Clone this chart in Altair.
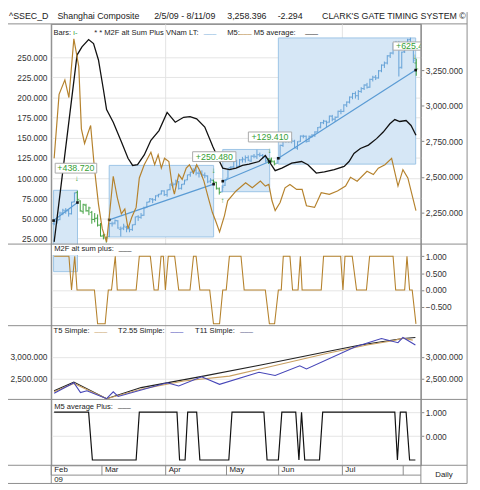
import altair as alt
import pandas as pd

FONT = "Liberation Sans"
GREEN = "#3a9d3a"
BAR_IN = "#62a0d6"
BROWN = "#b5822d"
TREND = "#5a9bd4"
GRID = "#e4e4e4"
FRAME = "#8c8c8c"
LEG = 7.7

# ---------------- data ----------------
# x = trading-day index (0 = 5 Feb 2009)
month_pos = [-1.0, 16.5, 38.5, 59.5, 77.5, 99.5, 120.5]
month_lab = ["Feb", "Mar", "Apr", "May", "Jun", "Jul", ""]
quarter_pos = [38.5, 99.5]

bar_open = [2170, 2185, 2200, 2245, 2260, 2260, 2240, 2325, 2390, 2330, 2255, 2300, 2260, 2250, 2200, 2210, 2160,
            2085, 2070, 2080, 2170, 2175, 2190, 2130, 2140, 2145, 2135, 2130, 2165, 2220, 2215, 2230, 2285, 2325,
            2340, 2340, 2370, 2380, 2400,
            2375, 2410, 2440, 2450, 2465, 2420, 2450, 2480, 2515, 2535, 2545, 2525, 2520, 2510, 2505, 2470, 2475,
            2460, 2415, 2395, 2440,
            2490, 2565, 2570, 2610, 2575, 2620, 2620, 2635, 2610, 2645, 2640, 2655, 2650, 2640, 2610, 2620, 2605, 2595,
            2630, 2720, 2765, 2775, 2765, 2750, 2700, 2750, 2785, 2785, 2750, 2785, 2795, 2815, 2850, 2880, 2890, 2885,
            2925, 2905, 2920, 2960,
            2960, 3005, 3025, 3060, 3085, 3070, 3100, 3120, 3145, 3130, 3185, 3200, 3195, 3245, 3285, 3300, 3350, 3370,
            3435, 3440,
            3270, 3380, 3415, 3465, 3395, 3300]
bar_high = [2205, 2215, 2255, 2275, 2280, 2270, 2325, 2390, 2402, 2335, 2310, 2310, 2290, 2260, 2245, 2235, 2175,
            2100, 2080, 2175, 2185, 2200, 2195, 2150, 2170, 2155, 2150, 2165, 2220, 2230, 2245, 2290, 2325, 2350,
            2350, 2370, 2380, 2405, 2405,
            2410, 2450, 2460, 2480, 2470, 2450, 2480, 2515, 2535, 2560, 2580, 2545, 2545, 2530, 2510, 2490, 2480,
            2465, 2425, 2440, 2485,
            2560, 2575, 2615, 2620, 2625, 2640, 2650, 2650, 2650, 2660, 2690, 2670, 2660, 2650, 2630, 2635, 2615, 2640,
            2725, 2770, 2785, 2780, 2770, 2760, 2750, 2790, 2795, 2790, 2790, 2800, 2820, 2850, 2885, 2900, 2895, 2930,
            2935, 2925, 2965, 2975,
            3010, 3030, 3065, 3090, 3100, 3110, 3130, 3150, 3160, 3190, 3210, 3215, 3250, 3290, 3310, 3355, 3375, 3440,
            3455, 3455,
            3380, 3440, 3470, 3478, 3410, 3330]
bar_low = [2160, 2170, 2195, 2230, 2240, 2220, 2235, 2320, 2330, 2255, 2240, 2255, 2230, 2170, 2180, 2150, 2080,
           2060, 2037, 2075, 2150, 2165, 2135, 2080, 2125, 2110, 2110, 2120, 2160, 2190, 2205, 2225, 2280, 2320,
           2315, 2330, 2355, 2375, 2365,
           2360, 2405, 2425, 2440, 2410, 2410, 2445, 2475, 2500, 2520, 2510, 2495, 2500, 2490, 2455, 2455, 2445,
           2410, 2375, 2390, 2435,
           2488, 2545, 2560, 2565, 2570, 2600, 2600, 2610, 2605, 2630, 2625, 2640, 2625, 2600, 2590, 2600, 2580, 2590,
           2625, 2710, 2740, 2740, 2735, 2700, 2690, 2745, 2770, 2740, 2745, 2775, 2780, 2810, 2840, 2870, 2850, 2880,
           2890, 2885, 2915, 2940,
           2955, 2990, 3015, 3045, 3050, 3040, 3090, 3110, 3120, 3125, 3170, 3180, 3190, 3235, 3265, 3290, 3335, 3360,
           3410, 3205,
           3260, 3370, 3400, 3390, 3300, 3210]
bar_close = [2190, 2195, 2245, 2265, 2266, 2240, 2320, 2385, 2340, 2261, 2306, 2261, 2281, 2200, 2207, 2160, 2082,
             2093, 2071, 2172, 2169, 2193, 2140, 2134, 2153, 2133, 2128, 2161, 2218, 2216, 2229, 2281, 2320, 2347,
             2337, 2365, 2374, 2401, 2373,
             2407, 2449, 2444, 2471, 2417, 2445, 2472, 2513, 2532, 2542, 2527, 2525, 2514, 2508, 2464, 2477, 2464,
             2420, 2390, 2428, 2477,
             2560, 2567, 2611, 2573, 2618, 2625, 2634, 2617, 2645, 2644, 2655, 2650, 2645, 2612, 2626, 2610, 2590, 2632,
             2722, 2763, 2779, 2765, 2751, 2705, 2745, 2787, 2785, 2747, 2784, 2792, 2815, 2845, 2880, 2892, 2880, 2928,
             2905, 2917, 2960, 2959,
             3005, 3025, 3060, 3085, 3070, 3100, 3120, 3145, 3130, 3185, 3200, 3195, 3245, 3285, 3300, 3350, 3370, 3435,
             3440, 3266,
             3375, 3412, 3462, 3400, 3320, 3258]

trade_entry = [0, 19, 58, 77]
trade_exit = [8, 55, 74, 125]
box_x0 = [-0.2, 19.0, 58.2, 77.4]
box_x1 = [8.05, 55.05, 74.4, 124.8]
box_top = [2405, 2580, 2692, 3476]
box_bot = [1833, 2077, 2395, 2589]
trend_p0 = [2192, 2197, 2469, 2630]
trend_p1 = [2319, 2448, 2607, 3250]

gain_text = ["+438.720", "+250.480", "+129.410", "+625.420"]
gain_x0 = [0.36, 47.8, 67.05, 117.0]
gain_x1 = [14.7, 62.75, 81.98, 132.0]
gain_top = [2595, 2676, 2815, 3448]
gain_bot = [2526, 2607, 2745, 3390]
gain_tx = [7.5, 55.3, 74.5, 124.4]
gain_ty = [2561, 2642, 2780, 3419]

arrow_x = [7.9, 55.05, 58.2, 74.4, 124.6]
arrow_p = [2481, 2543, 2331, 2681, 3345]
arrow_sym = ["↓", "↓", "↑", "↓", "↓"]

m5avg_x = [0.0, 7.9, 9.6, 11.9, 13.6, 15.3, 17.0, 18.1, 20.4, 23.2, 25.5, 27.1, 28.8, 31.1, 33.4, 36.2, 39.0, 41.8,
           44.7, 46.9, 49.2, 52.0, 54.8, 57.1, 58.2, 60.5, 62.8, 65.0, 67.3, 70.7, 72.9, 74.6, 76.3, 78.6, 82.0, 85.4,
           87.6, 90.5, 93.3, 96.7, 100.1, 101.8, 103.5, 105.7, 108.5, 111.3, 113.6, 115.9, 117.6, 119.3, 121.5, 123.2,
           124.9]
m5avg_v = [20.8, 252.8, 263, 272, 267, 246.7, 210, 185, 169.4, 145, 124.6, 115.7, 116.6, 128.8, 147, 159, 181.6, 169.4,
           175.5, 176.4, 173.5, 163.3, 139, 120.6, 112.4, 110.5, 112.4, 115.7, 117.3, 120.6, 128, 118.5, 109.2, 112.4,
           118.5, 120.6, 116.6, 106.3, 107.6, 110.5, 114.5, 120.6, 130.7, 136.8, 141, 149, 157.2, 167.4, 172.7, 170.3,
           171.5, 165.4, 153.2]

m5_x = [0.0, 1.7, 3.7, 5.1, 6.8, 8.5, 9.4, 10.5, 11.6, 12.6, 13.9, 15.3, 16.6, 18.1, 18.9, 20.4, 21.8, 23.2, 24.4,
        25.5, 26.8, 28.3, 29.4, 31.1, 33.4, 34.7, 35.9, 37.0, 38.1, 39.6, 40.7, 41.5, 43.0, 44.2, 45.6, 46.7, 48.1,
        49.2, 50.5, 51.7, 53.2, 54.6, 55.7, 57.1, 58.8, 59.9, 62.8, 66.1, 68.4, 71.2, 72.9, 74.1, 75.2, 76.3, 78.0,
        79.7, 81.4, 83.7, 85.6, 87.1, 89.9, 92.2, 95.0, 97.8, 100.6, 102.3, 104.6, 108.0, 110.2, 111.9, 114.2, 116.5,
        118.7, 120.4, 122.1, 124.9]
m5_v = [124.6, 204, 222, 200, 273, 238.6, 161, 143, 155, 165.4, 112.4, 67.7, 37.2, 20.8, 47.3, 102.3, 75.8, 55.5, 61.6,
        37.2, 51.4, 63.6, 100.2, 116.6, 132, 116.6, 128.8, 112.4, 124.6, 120.6, 92, 80, 104.4, 98.3, 112.4, 116.6,
        106.3, 116.6, 107.5, 96.2, 75.8, 57.5, 47.3, 33.1, 53.4, 71.8, 84, 94.1, 88, 96.2, 90.1, 92.1, 71.8, 59.6,
        69.7, 88, 92.1, 86, 86, 65.7, 63.6, 81.9, 79.9, 84, 90.1, 101, 96.2, 108.4, 104.4, 112.4, 116.6, 124.6, 90.1,
        110.5, 100.2, 59.6]

p2_x = [0.0, 5.1, 6.0, 7.1, 7.9, 13.9, 15.0, 17.6, 18.7, 19.8, 21.1, 21.8, 28.3, 29.4, 33.2, 34.5, 35.9, 36.9, 37.7,
        38.4, 39.4, 41.6, 43.0, 46.9, 48.1, 49.0, 50.3, 53.7, 55.0, 57.1, 58.2, 59.4, 60.5, 64.5, 65.6, 72.9, 74.3,
        76.1, 77.4, 78.4, 79.1, 81.4, 82.3, 84.2, 85.0, 85.6, 92.2, 93.0, 98.9, 99.7, 100.4, 102.9, 104.4, 107.8,
        108.9, 117.0, 117.9, 121.0, 121.8, 122.7, 123.6, 124.9]
p2_v = [1, 1, 0, 1, 0, 0, -1, -1, 0, 0, 1, 0, 0, 1, 1, 0, 0, 1, 1,
        0, 1, 1, 0, 0, 1, 1, 0, 0, -1, -1, 0, 0, 1, 1, 0, 0, -1,
        -1, 0, 0, 1, 1, 0, 0, 1, 0, 0, 1, 1, 0, 1, 1, 0, 0,
        1, 1, 0, 0, 1, 0, 0, -1]

t255_x = [0.0, 6.8, 9.1, 11.3, 18.1, 20.4, 22.1, 39.0, 43.0, 50.9, 57.1, 70.7, 76.3, 84.8, 87.1, 104.0, 113.0, 118.7,
          120.4, 124.7]
t255_v = [2159, 2402, 2175, 2214, 2032, 2191, 2084, 2402, 2327, 2539, 2364, 2645, 2568, 2795, 2720, 3236, 3425, 3327,
          3448, 3273]
t11_x = [0.0, 6.8, 18.1, 30.0, 51.5, 71.8, 94.4, 105.7, 120.4, 124.7]
t11_v = [2214, 2418, 2032, 2289, 2555, 2818, 3123, 3273, 3425, 3448]
t5_x = [0.0, 6.8, 18.1, 30.0, 44.7, 60.5, 75.2, 94.4, 108.0, 117.0, 120.4, 123.8]
t5_v = [2191, 2386, 2032, 2250, 2441, 2555, 2782, 3084, 3273, 3373, 3432, 3386]

p4_x = [0.0, 11.9, 13.2, 28.3, 29.4, 42.4, 43.3, 45.2, 46.1, 49.2, 50.3, 60.3, 61.4, 72.4, 73.5, 77.4, 78.6, 83.4,
        84.5, 85.4, 86.5, 91.6, 92.7, 117.6, 118.5, 119.5, 121.5, 122.7, 124.7]
p4_v = [1, 1, -1, -1, 1, 1, -1, -1, 1, 1, -1, -1, 1, 1, -1, -1, 1, 1,
        -1, 1, -1, -1, 1, 1, -1, 1, 1, -1, -1]

m5_ticks = [25, 50, 75, 100, 125, 150, 175, 200, 225, 250]
price_ticks = [2250, 2500, 2750, 3000, 3250]
p2_ticks = [1, 0.5, 0, -0.5]
p3_ticks = [2500, 3000]
p4_ticks = [0, 1]

# ---------------- tables ----------------
n = len(bar_close)
bar_col = []
for i in range(n):
    inside = any(e <= i < x for e, x in zip(trade_entry, trade_exit))
    bar_col.append(BAR_IN if inside else GREEN)
bars = pd.DataFrame({"d": list(range(n)), "o": bar_open, "h": bar_high, "l": bar_low,
                     "c": bar_close, "col": bar_col})
boxes = pd.DataFrame({"x0": box_x0, "x1": box_x1, "top": box_top, "bot": box_bot,
                      "p0": trend_p0, "p1": trend_p1})
dots = pd.DataFrame({"d": box_x0 + box_x1, "p": trend_p0 + trend_p1})
gains = pd.DataFrame({"x0": gain_x0, "x1": gain_x1, "top": gain_top, "bot": gain_bot,
                      "tx": gain_tx, "ty": gain_ty, "t": gain_text})
arrows = pd.DataFrame({"d": arrow_x, "p": arrow_p, "s": arrow_sym})
m5avg = pd.DataFrame({"d": m5avg_x, "v": m5avg_v})
m5 = pd.DataFrame({"d": m5_x, "v": m5_v})
p2 = pd.DataFrame({"d": p2_x, "v": p2_v})
t255 = pd.DataFrame({"d": t255_x, "v": t255_v})
t11 = pd.DataFrame({"d": t11_x, "v": t11_v})
t5 = pd.DataFrame({"d": t5_x, "v": t5_v})
p4 = pd.DataFrame({"d": p4_x, "v": p4_v})
months = pd.DataFrame({"d": month_pos, "m": month_lab})
quarters = pd.DataFrame({"d": quarter_pos})
ONE = pd.DataFrame({"k": [0]})

# ---------------- scales ----------------
XS = alt.Scale(domain=[-1.0, 126.6], nice=False, zero=False)
PRICE = ([2026.8, 3574.8], [224, 0])
M5S = ([18.04, 291.5], [224, 0])
P2S = ([-1.055, 1.3576], [307, 224])
P3S = ([2015.9, 3720.5], [382, 307])
P4S = ([-1.222, 1.535], [449, 382])


def xq(f):
    return alt.X(f"{f}:Q", scale=XS, axis=None)


def x2q(f):
    return alt.X2(f"{f}")


def yq(f, S, axis=None):
    return alt.Y(f"{f}:Q", scale=alt.Scale(domain=S[0], range=S[1], nice=False, zero=False), axis=axis)


def ax_right(values, fmt, grid=False):
    return alt.Axis(orient="right", values=values, format=fmt, tickSize=3, labelPadding=1.5,
                    domain=False, grid=grid, gridColor=GRID, labelFont=FONT, labelFontSize=8.5,
                    labelColor="#333", tickColor="#888", title=None)


def ax_left(values, fmt, grid=True):
    return alt.Axis(orient="left", values=values, format=fmt, ticks=False, tickSize=0, labelPadding=4.3,
                    domain=False, grid=grid, gridColor=GRID, labelFont=FONT, labelFontSize=8.5,
                    labelColor="#333", title=None)


def txt(s, x, y, color="#222", size=LEG, align="left"):
    return alt.Chart(ONE).mark_text(text=s, align=align, baseline="middle", font=FONT,
                                    fontSize=size, color=color).encode(x=alt.value(x), y=alt.value(y))


def hline(y, x1, x2, color=FRAME):
    return alt.Chart(ONE).mark_rule(color=color, strokeWidth=1).encode(
        x=alt.value(x1), x2=alt.value(x2), y=alt.value(y))


def vline(x, y1, y2, color=FRAME):
    return alt.Chart(ONE).mark_rule(color=color, strokeWidth=1).encode(
        x=alt.value(x), y=alt.value(y1), y2=alt.value(y2))


layers = []

# vertical quarter grid
layers.append(alt.Chart(quarters).mark_rule(color="#e2e2e2").encode(
    x=xq("d"), y=alt.value(0), y2=alt.value(449)))

# trade boxes
layers.append(alt.Chart(boxes).mark_rect(fill="#d6e7f6", stroke="#9cc4e6", strokeWidth=1).encode(
    x=xq("x0"), x2=x2q("x1"), y=yq("top", PRICE), y2=alt.Y2("bot")))

# white legend band of panel 2
layers.append(alt.Chart(ONE).mark_rect(color="white").encode(
    x=alt.value(0.5), x2=alt.value(375.5), y=alt.value(224.5), y2=alt.value(235)))

# price bars
layers.append(alt.Chart(bars).mark_rule(strokeWidth=1).encode(
    x=xq("d"), y=yq("l", PRICE, ax_right(price_ticks, ",.3f")), y2=alt.Y2("h"),
    color=alt.Color("col:N", scale=None)))
layers.append(alt.Chart(bars).mark_tick(orient="horizontal", size=2, thickness=1, xOffset=-1).encode(
    x=xq("d"), y=yq("o", PRICE), color=alt.Color("col:N", scale=None)))
layers.append(alt.Chart(bars).mark_tick(orient="horizontal", size=2, thickness=1, xOffset=1).encode(
    x=xq("d"), y=yq("c", PRICE), color=alt.Color("col:N", scale=None)))

# trend lines + dots
layers.append(alt.Chart(boxes).mark_rule(color=TREND, strokeWidth=1.2).encode(
    x=xq("x0"), x2=x2q("x1"), y=yq("p0", PRICE), y2=alt.Y2("p1")))
layers.append(alt.Chart(dots).mark_square(color="#111", size=7, opacity=1).encode(
    x=xq("d"), y=yq("p", PRICE)))

# M5 indicators (left scale)
layers.append(alt.Chart(m5avg).mark_line(color="#111", strokeWidth=1.3).encode(
    x=xq("d"), y=yq("v", M5S, ax_left(m5_ticks, ".3f"))))
layers.append(alt.Chart(m5).mark_line(color=BROWN, strokeWidth=1.2).encode(
    x=xq("d"), y=yq("v", M5S)))

# gain labels
layers.append(alt.Chart(gains).mark_rect(fill="white", stroke="#aaaaaa", strokeWidth=1, clip=True).encode(
    x=xq("x0"), x2=x2q("x1"), y=yq("top", PRICE), y2=alt.Y2("bot")))
layers.append(alt.Chart(gains).mark_text(color="#35a035", font=FONT, fontSize=9, clip=True).encode(
    x=xq("tx"), y=yq("ty", PRICE), text="t:N"))
layers.append(alt.Chart(arrows).mark_text(color=GREEN, font=FONT, fontSize=8).encode(
    x=xq("d"), y=yq("p", PRICE), text="s:N"))

# panel 2
layers.append(alt.Chart(p2).mark_line(color=BROWN, strokeWidth=1.1).encode(
    x=xq("d"), y=yq("v", P2S, ax_right(p2_ticks, ".3f", grid=True))))

# panel 3
layers.append(alt.Chart(t11).mark_line(color="#222", strokeWidth=1.1).encode(
    x=xq("d"), y=yq("v", P3S, ax_left(p3_ticks, ",.3f"))))
layers.append(alt.Chart(t5).mark_line(color="#c9a062", strokeWidth=1.1).encode(
    x=xq("d"), y=yq("v", P3S, ax_right(p3_ticks, ",.3f"))))
layers.append(alt.Chart(t255).mark_line(color="#4646b8", strokeWidth=1.1).encode(
    x=xq("d"), y=yq("v", P3S)))

# panel 4
layers.append(alt.Chart(p4).mark_line(color="#111", strokeWidth=1.2).encode(
    x=xq("d"), y=yq("v", P4S, ax_right(p4_ticks, ".3f", grid=True))))

# date row
layers.append(alt.Chart(months).mark_rule(color=FRAME).encode(
    x=xq("d"), y=alt.value(449), y2=alt.value(459)))
layers.append(alt.Chart(months).mark_text(align="left", baseline="middle", dx=3, font=FONT,
                                          fontSize=8, color="#222").encode(
    x=xq("d"), y=alt.value(454), text="m:N"))

# frame lines
for yy in [0, 224, 307, 382, 449, 467.5]:
    layers.append(hline(yy, -44, 423))
layers.append(hline(459, 0, 376))
layers.append(vline(0, 0, 467.5))
layers.append(vline(376, 0, 467.5))
layers.append(vline(423, -12, 467.5))

# header
hy = -7.5
layers += [
    txt("^SSEC_D", -43, hy, size=9),
    txt("Shanghai Composite", 6.3, hy, size=9),
    txt("2/5/09 - 8/11/09", 104.7, hy, size=9),
    txt("3,258.396", 179, hy, size=9),
    txt("-2.294", 230.3, hy, size=9),
    txt("CLARK'S GATE TIMING SYSTEM ©", 275.5, hy, size=9),
]

# legends
layers += [
    txt("Bars:", 2.3, 9.3),
    txt("ı-", 22, 9.3, color=GREEN),
    txt("* * M2F alt Sum Plus VNam LT:", 43.7, 9.3),
    txt("___", 155, 7.5, color="#7ab0dc"),
    txt("M5:", 179, 9.3),
    txt("___", 191, 7.5, color=BROWN),
    txt("M5 average:", 206, 9.3),
    txt("___", 258.5, 7.5, color="#111"),
    txt("M2F alt sum plus:", 3, 229.3),
    txt("___", 68.7, 227.5, color="#333"),
    txt("T5 Simple:", 2.3, 312.3),
    txt("___", 44, 310.5, color="#c9a062"),
    txt("T2.55 Simple:", 68, 312.3),
    txt("___", 121.3, 310.5, color="#4646b8"),
    txt("T11 Simple:", 146.3, 312.3),
    txt("___", 192.3, 310.5, color="#555588"),
    txt("M5 average Plus:", 3, 389.3),
    txt("___", 68, 387.5, color="#333"),
    txt("09", 3, 463.5, size=8),
    txt("Daily", 399.5, 458.5, size=8, align="center"),
]

chart = alt.layer(*layers).resolve_scale(y="independent").resolve_axis(y="independent").properties(
    width=376, height=449,
    padding={"left": 44, "top": 12, "right": 52, "bottom": 22},
    autosize=alt.AutoSizeParams(type="none"),
).configure_view(stroke=FRAME, strokeWidth=1)

chart.save("out.html", embed_options={"renderer": "svg", "actions": False})
